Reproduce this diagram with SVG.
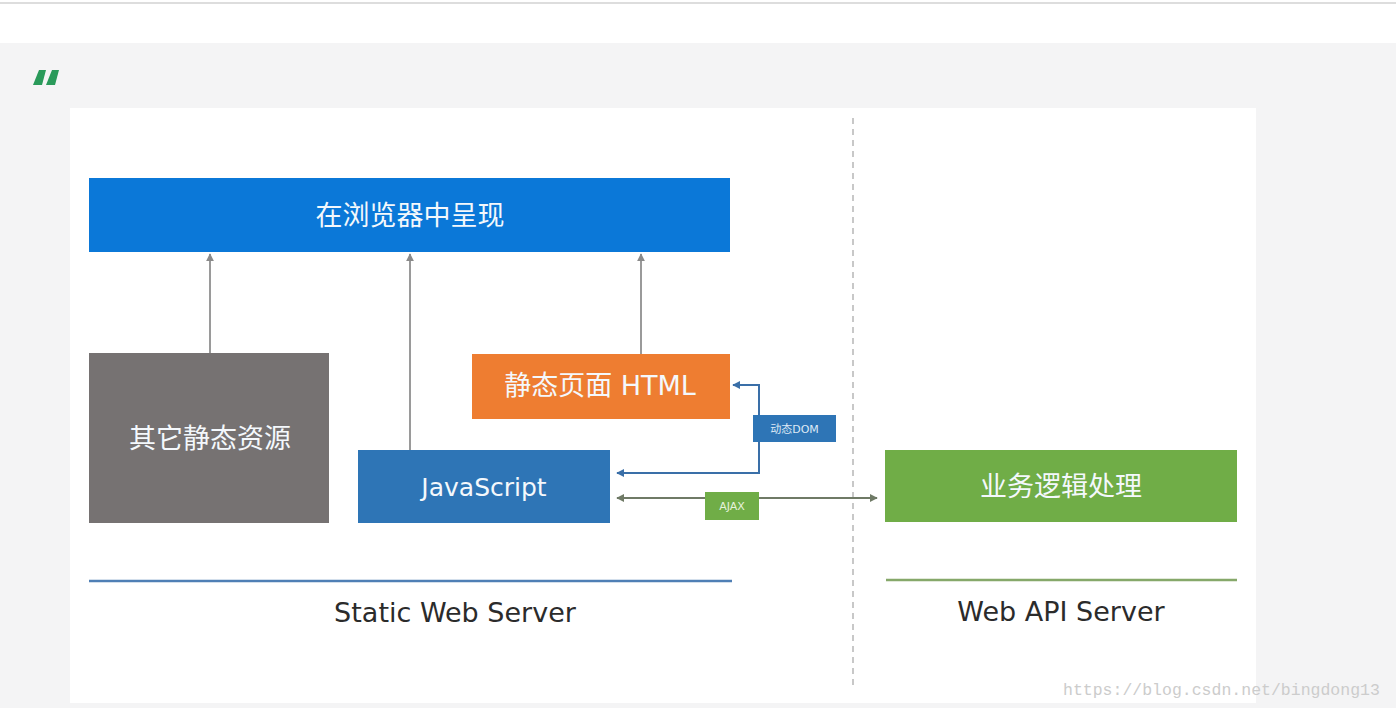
<svg xmlns="http://www.w3.org/2000/svg" width="1396" height="708" viewBox="0 0 1396 708">
<defs>
<style>
.cn{font-family:"DejaVu Sans","Noto Sans CJK SC",sans-serif;fill:#f4f8fc;text-anchor:middle;dominant-baseline:central}
.big{font-size:27px}
.lbl{font-family:"DejaVu Sans","Noto Sans CJK SC",sans-serif;font-size:11px;fill:#dfe9f5;text-anchor:middle;dominant-baseline:central}
.srv{font-family:"DejaVu Sans",sans-serif;font-size:27px;fill:#2b2b2b;text-anchor:middle;dominant-baseline:central}
.up{stroke:#9a9a9a;stroke-width:2;fill:none;marker-end:url(#ag)}
</style>
<marker id="ag" viewBox="0 0 10 10" refX="9" refY="5" markerWidth="4" markerHeight="4" orient="auto"><path d="M0,0L10,5L0,10z" fill="#8a8a8a"/></marker>
<marker id="ab" viewBox="0 0 10 10" refX="9" refY="5" markerWidth="4" markerHeight="4" orient="auto-start-reverse"><path d="M0,0L10,5L0,10z" fill="#3a6fa8"/></marker>
<marker id="ax" viewBox="0 0 10 10" refX="9" refY="5" markerWidth="4" markerHeight="4" orient="auto-start-reverse"><path d="M0,0L10,5L0,10z" fill="#6f7a66"/></marker>
</defs>
<rect x="0" y="0" width="1396" height="708" fill="#ffffff"/>
<rect x="0" y="2" width="1396" height="2" fill="#dddddd"/>
<rect x="0" y="43" width="1396" height="665" fill="#f4f4f5"/>
<rect x="70" y="108" width="1186" height="595" fill="#ffffff"/>
<g id="quote" fill="#2a9a5a">
<path d="M33,85 L39,70 L46,70 L42,85 Z"/>
<path d="M46,85 L52,70 L59,70 L55,85 Z"/>
</g>
<line x1="853" y1="118" x2="853" y2="690" stroke="#c8c8c8" stroke-width="2" stroke-dasharray="6,5"/>
<g id="connectors">
<line class="up" x1="210" y1="353" x2="210" y2="254"/>
<line class="up" x1="410" y1="450" x2="410" y2="254"/>
<line class="up" x1="641" y1="354" x2="641" y2="254"/>
<polyline points="617,473 759,473 759,385 733,385" fill="none" stroke="#3a6fa8" stroke-width="2" marker-start="url(#ab)" marker-end="url(#ab)"/>
<line x1="617" y1="498" x2="877" y2="498" stroke="#6f7a66" stroke-width="2" marker-start="url(#ax)" marker-end="url(#ax)"/>
<g id="label-dom"><rect x="753" y="415" width="83" height="27" fill="#2e75b6"/><text class="lbl" x="794.5" y="429">动态DOM</text></g>
<g id="label-ajax"><rect x="705" y="492" width="54" height="28" fill="#70ad47"/><text class="lbl" x="732" y="506" style="fill:#e6f2dc">AJAX</text></g>
</g>
<g id="browser"><rect x="89" y="178" width="641" height="74" fill="#0b78d8"/><text class="cn big" x="410" y="215">在浏览器中呈现</text></g>
<g id="static-res"><rect x="89" y="353" width="240" height="170" fill="#767272"/><text class="cn big" x="210" y="438">其它静态资源</text></g>
<g id="html"><rect x="472" y="354" width="258" height="65" fill="#ee7d31"/><text class="cn big" x="600" y="385">静态页面 HTML</text></g>
<g id="js"><rect x="358" y="450" width="252" height="73" fill="#2e75b6"/><text class="cn" x="484" y="487" style="font-size:25px">JavaScript</text></g>
<g id="logic"><rect x="885" y="450" width="352" height="72" fill="#70ad47"/><text class="cn big" x="1061" y="486">业务逻辑处理</text></g>
<g id="static-server"><line x1="89" y1="581" x2="732" y2="581" stroke="#4f7fb5" stroke-width="2.5"/><text class="srv" x="455" y="612">Static Web Server</text></g>
<g id="api-server"><line x1="886" y1="580" x2="1237" y2="580" stroke="#86a86a" stroke-width="2.5"/><text class="srv" x="1061" y="611">Web API Server</text></g>
<text x="1063" y="695" font-family="Liberation Mono, monospace" font-size="16.5" fill="#cccccc">https://blog.csdn.net/bingdong13</text>
</svg>
